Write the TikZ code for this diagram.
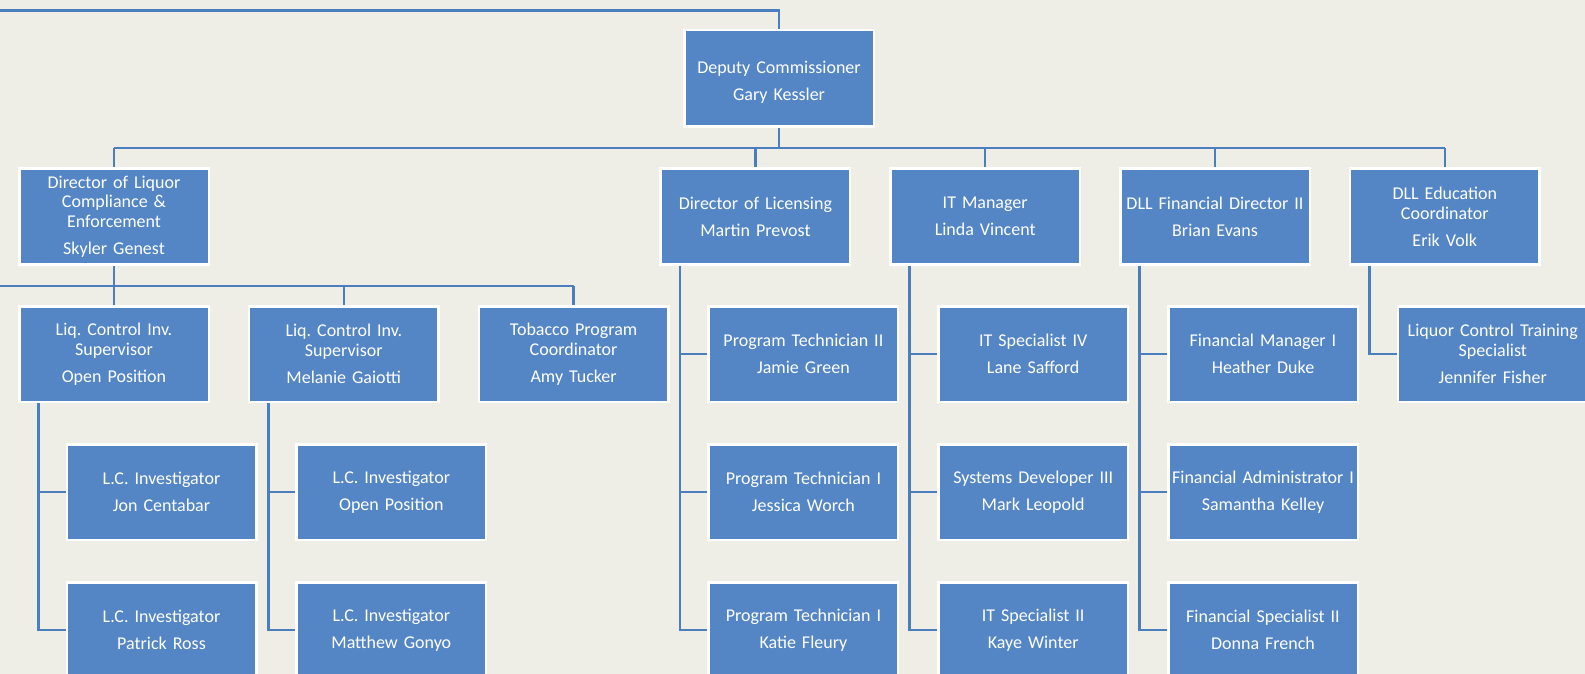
\documentclass[tikz,border=0pt]{standalone}
\usepackage{fontspec}
\setmainfont{Carlito}
\frenchspacing
\usetikzlibrary{calc}
\definecolor{bgc}{RGB}{238,237,230}
\definecolor{boxblue}{RGB}{84,134,198}
\definecolor{lineblue}{RGB}{74,126,189}
\pgfdeclarelayer{backdrop}
\pgfdeclarelayer{edges}
\pgfsetlayers{backdrop,edges,main}
\tikzset{
  orgbox/.style={draw=white, line width=2.5pt, fill=boxblue, text=white,
    minimum width=189.5pt, minimum height=95.5pt, inner sep=0pt, outer sep=0pt,
    align=center, text width=189pt, font=\fontsize{18}{19.7}\selectfont\frenchspacing},
  conn/.style={draw=lineblue, line width=2.5pt}
}
\newcommand{\nm}[2]{#1\\[7.3pt]#2}
\begin{document}
\begin{tikzpicture}[x=1pt,y=-1pt]
\useasboundingbox (0,0) rectangle (1585,674);
\begin{pgfonlayer}{backdrop}
\fill[bgc] (0,0) rectangle (1585,674);
\end{pgfonlayer}
% level 1
\node[orgbox, minimum height=96.5pt] (dep) at (779,78.5) {\mbox{}\\[0pt]\nm{Deputy Commissioner}{Gary Kessler}};
% level 2
\node[orgbox] (liq) at (114,216.5) {\nm{Director of Liquor\\Compliance \&\\Enforcement}{Skyler Genest}};
\node[orgbox] (lic) at (755.4,216.5) {\nm{Director of Licensing}{Martin Prevost}};
\node[orgbox] (itm) at (985.2,216.5) {\nm{IT Manager}{Linda Vincent}};
\node[orgbox] (fin) at (1215,216.5) {\nm{DLL Financial Director II}{Brian Evans}};
\node[orgbox] (edu) at (1444.8,216.5) {\nm{DLL Education\\Coordinator}{Erik Volk}};
% level 3
\node[orgbox] (s1) at (114,354) {\nm{Liq. Control Inv.\\Supervisor}{Open Position}};
\node[orgbox] (s2) at (343.8,354) {\nm{Liq. Control Inv.\\Supervisor}{Melanie Gaiotti}};
\node[orgbox] (tob) at (573.6,354) {\nm{Tobacco Program\\Coordinator}{Amy Tucker}};
\node[orgbox] (pt2) at (803.4,354) {\nm{Program Technician II}{Jamie Green}};
\node[orgbox] (its4) at (1033.2,354) {\nm{IT Specialist IV}{Lane Safford}};
\node[orgbox] (fm1) at (1263,354) {\nm{Financial Manager I}{Heather Duke}};
\node[orgbox] (lcts) at (1492.8,354) {\nm{Liquor Control Training\\Specialist}{Jennifer Fisher}};
% level 4
\node[orgbox] (i1) at (161.5,492) {\nm{L.C. Investigator}{Jon Centabar}};
\node[orgbox] (i2) at (391.3,492) {\nm{L.C. Investigator}{Open Position}};
\node[orgbox] (pt1a) at (803.4,492) {\nm{Program Technician I}{Jessica Worch}};
\node[orgbox] (sd3) at (1033.2,492) {\nm{Systems Developer III}{Mark Leopold}};
\node[orgbox] (fa1) at (1263,492) {\nm{Financial Administrator I}{Samantha Kelley}};
% level 5
\node[orgbox] (i3) at (161.5,630) {\nm{L.C. Investigator}{Patrick Ross}};
\node[orgbox] (i4) at (391.3,630) {\nm{L.C. Investigator}{Matthew Gonyo}};
\node[orgbox] (pt1b) at (803.4,630) {\nm{Program Technician I}{Katie Fleury}};
\node[orgbox] (its2) at (1033.2,630) {\nm{IT Specialist II}{Kaye Winter}};
\node[orgbox] (fs2) at (1263,630) {\nm{Financial Specialist II}{Donna French}};
\begin{pgfonlayer}{edges}
\coordinate (top) at (-5,10.5);
\coordinate (busA) at (0,148);
\coordinate (busB) at (-5,286);
\draw[conn] (top) -| (dep.north);
\draw[conn] (dep.south) -- (dep.south |- busA);
\draw[conn] (liq.north |- busA) -- (edu.north |- busA);
\foreach \n in {liq,lic,itm,fin,edu} \draw[conn] (\n.north) -- (\n.north |- busA);
\draw[conn] (busB) -- (busB -| tob.north);
\draw[conn] (liq.south) -- (liq.south |- busB);
\foreach \n in {s1,s2,tob} \draw[conn] (\n.north) -- (\n.north |- busB);
% sub-branches
\foreach \p/\c in {s1/i1,s1/i3,s2/i2,s2/i4,lic/pt2,lic/pt1a,lic/pt1b,itm/its4,itm/sd3,itm/its2,fin/fm1,fin/fa1,fin/fs2,edu/lcts}
  \draw[conn] ($(\p.south west)+(19.25,0)$) |- (\c.west);
\end{pgfonlayer}
\end{tikzpicture}
\end{document}
